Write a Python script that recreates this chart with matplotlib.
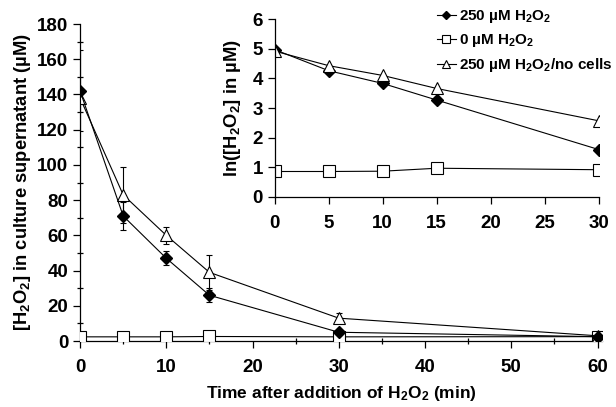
import matplotlib
matplotlib.use("Agg")
import matplotlib.pyplot as plt
from matplotlib.ticker import MultipleLocator

plt.rcParams['font.family'] = ['Liberation Sans', 'DejaVu Sans']
plt.rcParams['font.weight'] = 'bold'
plt.rcParams['mathtext.fontset'] = 'custom'
plt.rcParams['mathtext.rm'] = 'Liberation Sans:bold'
plt.rcParams['mathtext.it'] = 'Liberation Sans:bold'
plt.rcParams['mathtext.bf'] = 'Liberation Sans:bold'

# Main data
time = [0, 5, 10, 15, 30, 60]
h2o2_250 = [142, 71, 47, 26, 5, 2.5]
h2o2_250_err = [23, 8, 4, 4, 1, 0.5]
h2o2_0 = [2.4, 2.4, 2.4, 2.6, 2.4, 2.5]
h2o2_0_err = [0, 0, 0, 0, 0, 0]
nocells = [138, 83, 60, 39, 13, 3]
nocells_err = [2, 16, 5, 10, 3, 0.5]

# Inset data (ln)
time_ln = [0, 5, 10, 15, 30]
ln_250 = [4.97, 4.26, 3.83, 3.27, 1.60]
ln_0 = [0.86, 0.86, 0.87, 0.97, 0.92]
ln_nocells = [4.92, 4.43, 4.10, 3.66, 2.57]

labels = ['250 µM H$_2$O$_2$', '0 µM H$_2$O$_2$', '250 µM H$_2$O$_2$/no cells']

fig = plt.figure(figsize=(6.16, 4.07), dpi=100)
ax = fig.add_axes([0.130, 0.162, 0.847, 0.779])

lw = 0.8
ax.errorbar(time, h2o2_250, yerr=h2o2_250_err, color='black', lw=lw, marker='D',
            ms=6.5, mfc='black', mec='black', capsize=2, elinewidth=0.8, capthick=0.8, zorder=4)
ax.errorbar(time, h2o2_0, yerr=h2o2_0_err, color='black', lw=lw, marker='s',
            ms=8.5, mfc='white', mec='black', mew=0.8, capsize=2, elinewidth=0.8, zorder=3)
ax.errorbar(time, nocells, yerr=nocells_err, color='black', lw=lw, marker='^',
            ms=9, mfc='white', mec='black', mew=0.8, capsize=2, elinewidth=0.8, capthick=0.8, zorder=3)

ax.set_xlim(0, 60.5)
ax.set_ylim(0, 180)
ax.xaxis.set_major_locator(MultipleLocator(10))
ax.xaxis.set_minor_locator(MultipleLocator(5))
ax.yaxis.set_major_locator(MultipleLocator(20))
ax.yaxis.set_minor_locator(MultipleLocator(10))
for s in ['top', 'right']:
    ax.spines[s].set_visible(False)
for s in ['left', 'bottom']:
    ax.spines[s].set_linewidth(0.9)
ax.tick_params(axis='both', which='major', direction='out', length=5, width=0.9, labelsize=13.5)
ax.tick_params(axis='both', which='minor', direction='inout', length=5, width=0.9)
ax.tick_params(axis='x', which='major', pad=8)
ax.set_xlabel('Time after addition of H$_2$O$_2$ (min)', fontsize=12.5, fontweight='bold', labelpad=6)
ax.set_ylabel('[H$_2$O$_2$] in culture supernatant (µM)', fontsize=13.2, fontweight='bold', labelpad=3)
for t in ax.get_xticklabels() + ax.get_yticklabels():
    t.set_fontweight('bold')

# Inset
ins = fig.add_axes([0.446, 0.516, 0.526, 0.437])
ins.patch.set_alpha(0)
h1, = ins.plot(time_ln, ln_250, color='black', lw=lw, marker='D', ms=6.5, mfc='black', mec='black')
h2, = ins.plot(time_ln, ln_0, color='black', lw=lw, marker='s', ms=8.5, mfc='white', mec='black', mew=0.8)
h3, = ins.plot(time_ln, ln_nocells, color='black', lw=lw, marker='^', ms=9, mfc='white', mec='black', mew=0.8)
ins.set_xlim(0, 30)
ins.set_ylim(0, 6)
ins.xaxis.set_major_locator(MultipleLocator(5))
ins.yaxis.set_major_locator(MultipleLocator(1))
for s in ['top', 'right']:
    ins.spines[s].set_visible(False)
for s in ['left', 'bottom']:
    ins.spines[s].set_linewidth(0.9)
ins.tick_params(axis='both', which='major', direction='out', length=5, width=0.9, labelsize=13.5)
ins.tick_params(axis='x', which='major', pad=8)
ins.set_ylabel('ln([H$_2$O$_2$] in µM)', fontsize=13.2, fontweight='bold', labelpad=7)
for t in ins.get_xticklabels() + ins.get_yticklabels():
    t.set_fontweight('bold')

leg = fig.legend([h1, h2, h3], labels, loc='upper left', bbox_to_anchor=(0.690, 1.01),
                 frameon=False, handlelength=1.2, handletextpad=0.25, labelspacing=0.45,
                 borderpad=0.3, prop={'weight': 'bold', 'size': 11}, markerscale=0.6)

fig.savefig('out.png', dpi=100)
